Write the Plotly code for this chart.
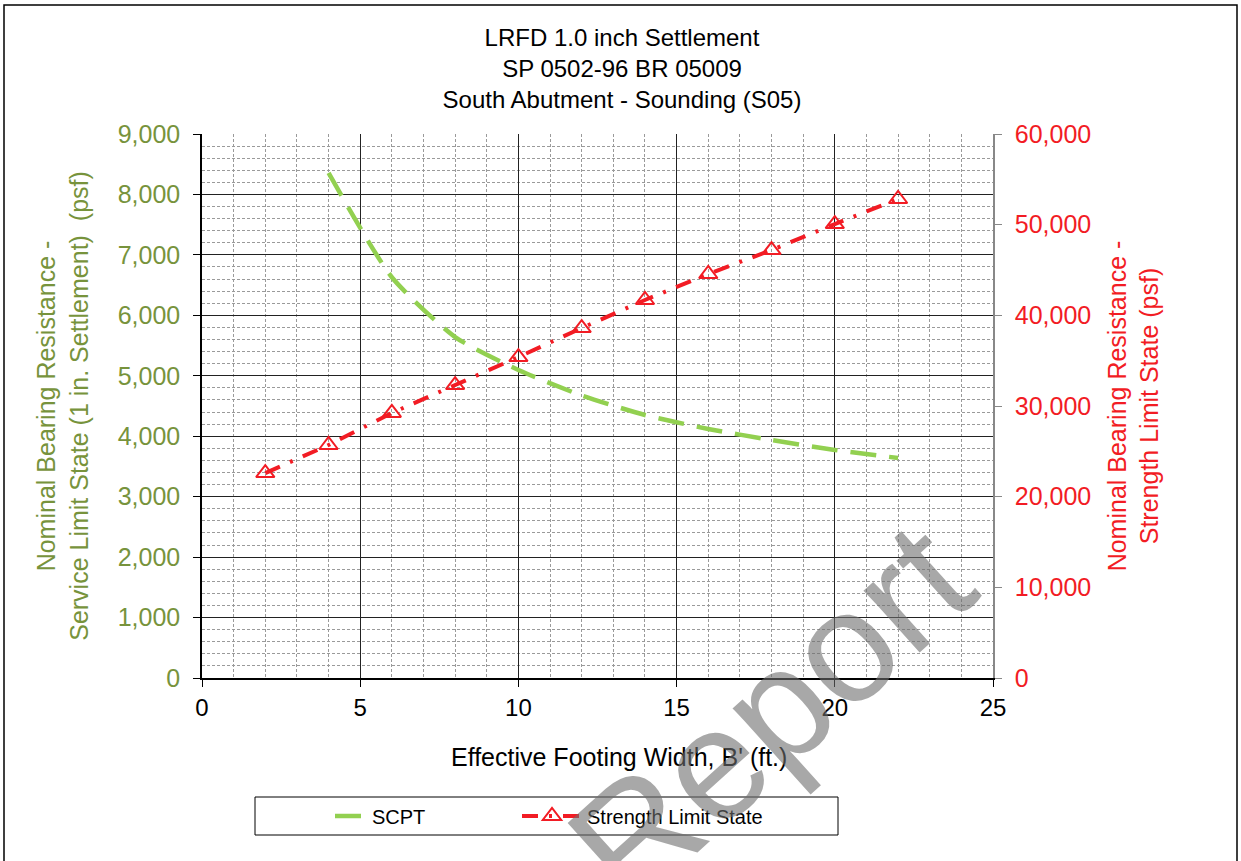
import plotly.graph_objects as go

# ---- data ----
scpt_width_ft = [4, 6, 8, 10, 12, 14, 16, 18, 20, 22]
scpt_psf = [8355, 6630, 5640, 5096, 4674, 4351, 4120, 3938, 3772, 3640]

strength_width_ft = [2, 4, 6, 8, 10, 12, 14, 16, 18, 20, 22]
strength_psf = [22600, 25700, 29230, 32310, 35400, 38600, 41690, 44560, 47200, 50070, 52830]

title_lines = ["LRFD 1.0 inch Settlement", "SP 0502-96 BR 05009", "South Abutment - Sounding (S05)"]
x_title = "Effective Footing Width, B' (ft.)"
y_left_title = "Nominal Bearing Resistance -<br>Service Limit State (1 in. Settlement)  (psf)"
y_right_title = "Nominal Bearing Resistance -<br>Strength Limit State (psf)"

GREEN = "#92D050"
OLIVE = "#77933C"
RED = "#F21C24"
FONT = "Arial, Liberation Sans, sans-serif"

W, H = 1241, 861
L, R, T, B = 202, 248, 134, 183
PW, PH = W - L - R, H - T - B


def px(xp):
    return (xp - L) / PW


def py(yp):
    return (H - B - yp) / PH


fig = go.Figure()
fig.add_trace(go.Scatter(
    x=scpt_width_ft, y=scpt_psf, name="SCPT", mode="lines",
    line=dict(color=GREEN, width=4.5, dash="26px,13px", shape="spline", smoothing=0.6),
    yaxis="y", legend="legend",
))
fig.add_trace(go.Scatter(
    x=strength_width_ft, y=strength_psf, name="Strength Limit State", mode="lines+markers",
    line=dict(color=RED, width=4, dash="16px,11px,3px,11px"),
    marker=dict(symbol="triangle-up-open", size=16, color=RED, line=dict(width=2, color=RED)),
    yaxis="y2", legend="legend2",
))

legend_common = dict(orientation="h", xanchor="left", y=py(816), yanchor="middle",
                     bgcolor="rgba(0,0,0,0)", borderwidth=0,
                     font=dict(family=FONT, size=20, color="black"))

fig.update_layout(
    width=W, height=H,
    margin=dict(l=L, r=R, t=T, b=B, autoexpand=False),
    paper_bgcolor="white", plot_bgcolor="white",
    font=dict(family=FONT, size=24, color="black"),
    title=dict(text="<br>".join(title_lines), x=622 / W, xref="container", xanchor="center",
               y=1 - 46 / H, yref="container", yanchor="top",
               font=dict(family=FONT, size=24, color="black")),
    xaxis=dict(
        range=[0, 25], dtick=5, tick0=0,
        showgrid=True, gridcolor="#222222", gridwidth=1,
        minor=dict(dtick=1, showgrid=True, gridcolor="#9a9a9a", griddash="3px,2px", gridwidth=1),
        ticks="outside", ticklen=7, tickcolor="black",
        showline=True, linecolor="black", linewidth=1.5,
        zeroline=False,
        tickfont=dict(size=24, color="black"),
    ),
    yaxis=dict(
        range=[0, 9000], dtick=1000, tick0=0, tickformat=",",
        showgrid=True, gridcolor="#222222", gridwidth=1,
        minor=dict(dtick=200, showgrid=True, gridcolor="#9a9a9a", griddash="3px,2px", gridwidth=1),
        ticks="outside", ticklen=7, tickcolor="black",
        showline=True, linecolor="black", linewidth=1.5,
        zeroline=False,
        ticklabelstandoff=8,
        tickfont=dict(size=25, color=OLIVE),
        title=dict(text=y_left_title, font=dict(size=25, color=OLIVE), standoff=22),
    ),
    yaxis2=dict(
        range=[0, 60000], dtick=10000, tick0=0, tickformat=",",
        overlaying="y", side="right",
        showgrid=False, zeroline=False,
        ticks="outside", ticklen=7, tickcolor="#888888",
        showline=True, linecolor="#888888", linewidth=1.5,
        ticklabelstandoff=8,
        tickfont=dict(size=25, color=RED),
        title=dict(text=y_right_title, font=dict(size=25, color=RED), standoff=18),
    ),
    showlegend=True,
    legend=dict(x=px(330), itemwidth=32, **legend_common),
    legend2=dict(x=px(517), itemwidth=60, **legend_common),
    shapes=[
        dict(type="rect", xref="paper", yref="paper", x0=px(255), x1=px(838), y0=py(835), y1=py(797),
             line=dict(color="black", width=1), fillcolor="white", layer="below"),
        dict(type="rect", xref="paper", yref="paper", x0=px(4), x1=px(1237), y0=py(880), y1=py(5),
             line=dict(color="black", width=1.5), fillcolor="rgba(0,0,0,0)", layer="below"),
    ],
    annotations=[
        dict(text=x_title, xref="paper", yref="paper", x=px(619), y=py(757),
             xanchor="center", yanchor="middle", showarrow=False,
             font=dict(family=FONT, size=25, color="black")),
        dict(text="Report", xref="paper", yref="paper", x=px(770), y=py(713),
             xanchor="center", yanchor="middle", showarrow=False, textangle=-42,
             font=dict(family=FONT, size=158, color="rgba(110,110,110,0.6)")),
    ],
)

fig.write_html("out.html", config={"displayModeBar": False},
               post_script="document.body.style.margin='0';document.body.style.overflow='hidden';")
